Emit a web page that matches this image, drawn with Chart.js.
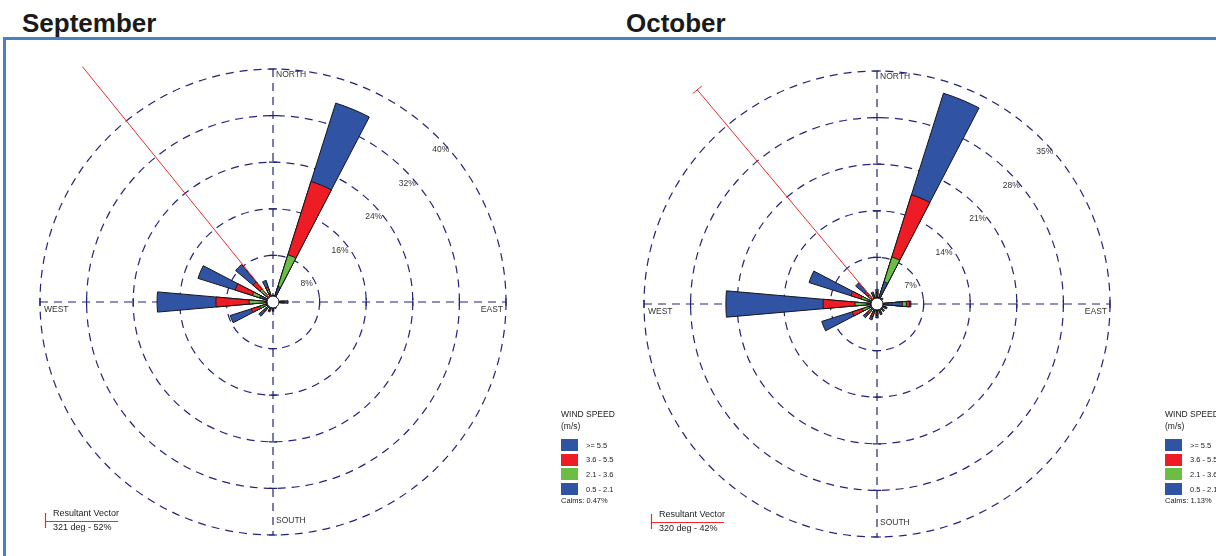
<!DOCTYPE html>
<html>
<head>
<meta charset="utf-8">
<script src="https://cdn.jsdelivr.net/npm/chart.js@4.4.1/dist/chart.umd.min.js"></script>
<style>
  html, body { margin: 0; padding: 0; background: #fff; }
  body { width: 1216px; height: 556px; position: relative; overflow: hidden; font-family: "Liberation Sans", Arial, sans-serif; }
  .title { position: absolute; top: 10px; font-weight: bold; font-size: 26px; line-height: 26px; color: #1a1a1a; }
  .frame { position: absolute; left: 3px; top: 37px; width: 1240px; height: 560px; border-top: 3px solid #4a7fc0; border-left: 3px solid #4a7fc0; }
  canvas.rose { position: absolute; top: 0; }
  .legend { position: absolute; top: 0; left: 0; font-size: 8.5px; color: #222; }
  .legend div { position: absolute; white-space: nowrap; }
  .legend .sw { width: 17px; height: 12px; }
  .legend .lbl { font-size: 7.5px; }
</style>
</head>
<body>
<div class="frame"></div>
<div class="title" style="left:22px">September</div>
<div class="title" style="left:626px">October</div>
<canvas id="sepRose" class="rose" width="608" height="556" style="left:0px"></canvas>
<canvas id="octRose" class="rose" width="608" height="556" style="left:608px"></canvas>
<div id="sepLegend" class="legend"></div>
<div id="octLegend" class="legend"></div>

<script>
// Direction sectors, clockwise from north
const DIRS = ['N', 'NNE', 'NE', 'ENE', 'E', 'ESE', 'SE', 'SSE', 'S', 'SSW', 'SW', 'WSW', 'W', 'WNW', 'NW', 'NNW'];

// Wind speed classes (m/s), slowest first
const SPEED_LABELS = ['0.5 - 2.1', '2.1 - 3.6', '3.6 - 5.5', '>= 5.5'];
const SPEED_COLORS = ['#3153a4', '#6cbd45', '#ee1c25', '#3153a4'];

// September frequencies (%) per direction for each speed class
const sepSlow = [0.8, 2.8, 0.6, 0.4, 1.6, 0.5, 0.7, 0.9, 1.1, 1.1, 1.2, 1.2, 1.4, 2.4, 1.5, 1.6];
const sepMid  = [0.1, 5.7, 0.1, 0.1, 0.2, 0.1, 0.1, 0.1, 0.2, 0.2, 0.4, 1.2, 2.7, 1.3, 1.4, 0.6];
const sepHigh = [0.1, 13.2, 0.0, 0.0, 0.2, 0.0, 0.1, 0.1, 0.1, 0.2, 0.5, 1.5, 5.7, 3.1, 1.6, 0.5];
const sepTop  = [0.2, 14.1, 0.1, 0.0, 0.6, 0.0, 0.0, 0.1, 0.2, 0.3, 1.1, 3.8, 10.1, 6.7, 3.9, 1.2];
const sepTicks = [8, 16, 24, 32, 40];
const sepCalms = 0.47;
const sepResultant = { deg: 321, pct: 52 };

// October frequencies (%) per direction for each speed class
const octSlow = [1.2, 3.5, 0.8, 0.6, 3.8, 1.0, 1.0, 1.0, 1.2, 1.3, 1.3, 1.2, 1.5, 1.3, 1.3, 1.0];
const octMid  = [0.3, 3.9, 0.2, 0.1, 0.6, 0.2, 0.2, 0.2, 0.3, 0.3, 0.4, 1.1, 1.8, 1.2, 0.5, 0.2];
const octHigh = [0.3, 9.8, 0.1, 0.1, 0.5, 0.2, 0.1, 0.2, 0.2, 0.4, 0.4, 1.6, 4.8, 1.6, 0.7, 0.3];
const octTop  = [0.4, 16.0, 0.1, 0.1, 0.2, 0.2, 0.2, 0.3, 0.4, 0.5, 0.6, 4.8, 14.6, 6.6, 1.7, 0.4];
const octTicks = [7, 14, 21, 28, 35];
const octCalms = 1.13;
const octResultant = { deg: 320, pct: 42 };

const PETAL_DEG = 10;
const GAP_DEG = 360 / DIRS.length - PETAL_DEG;
const GRID_COLOR = '#23237a';
const GRID_DASH = [8, 6];
const TEXT_COLOR = '#333';
const VECTOR_COLOR = '#ee2a2a';
const LABEL_FONT = '8.5px "Liberation Sans", Arial, sans-serif';
const KEY_FONT = '9px "Liberation Sans", Arial, sans-serif';

// Cumulative petals: each class sits on top of the slower ones.
// Every direction is followed by an empty gap slice.
function stackClasses(classes) {
  let run = DIRS.map(() => 0);
  return classes.map(cls => {
    run = run.map((v, i) => v + cls[i]);
    const out = [];
    run.forEach(v => out.push(+v.toFixed(2), 0));
    return out;
  });
}

const roseDecor = {
  id: 'roseDecor',
  beforeDatasetsDraw(chart, args, opts) {
    const r = chart.scales.r;
    const ctx = chart.ctx;
    const cx = r.xCenter, cy = r.yCenter, R = r.drawingArea;
    ctx.save();
    ctx.strokeStyle = GRID_COLOR;
    ctx.lineWidth = 1.2;
    ctx.setLineDash(GRID_DASH);
    ctx.beginPath();
    ctx.moveTo(cx, cy - R); ctx.lineTo(cx, cy + R);
    ctx.moveTo(cx - R, cy); ctx.lineTo(cx + R, cy);
    ctx.stroke();
    ctx.setLineDash([]);
    // short marks where the compass axes cross each ring
    ctx.beginPath();
    r.ticks.forEach(t => {
      if (t.value <= 0) return;
      const d = r.getDistanceFromCenterForValue(t.value);
      ctx.moveTo(cx - 4, cy - d); ctx.lineTo(cx + 4, cy - d);
      ctx.moveTo(cx - 4, cy + d); ctx.lineTo(cx + 4, cy + d);
      ctx.moveTo(cx - d, cy - 4); ctx.lineTo(cx - d, cy + 4);
      ctx.moveTo(cx + d, cy - 4); ctx.lineTo(cx + d, cy + 4);
    });
    ctx.stroke();
    ctx.restore();
  },
  afterDatasetsDraw(chart, args, opts) {
    const r = chart.scales.r;
    const ctx = chart.ctx;
    const cx = r.xCenter, cy = r.yCenter, R = r.drawingArea;
    ctx.save();

    // resultant vector, bearing measured clockwise from north
    const a = (opts.resultant.deg - 90) * Math.PI / 180;
    const len = r.getDistanceFromCenterForValue(opts.resultant.pct);
    const ex = cx + Math.cos(a) * len, ey = cy + Math.sin(a) * len;
    ctx.strokeStyle = VECTOR_COLOR;
    ctx.lineWidth = 1;
    ctx.beginPath();
    ctx.moveTo(cx, cy);
    ctx.lineTo(ex, ey);
    if (opts.cap) {
      const px = -Math.sin(a) * opts.cap / 2, py = Math.cos(a) * opts.cap / 2;
      ctx.moveTo(ex - px, ey - py);
      ctx.lineTo(ex + px, ey + py);
    }
    ctx.stroke();

    // calm circle
    ctx.beginPath();
    ctx.arc(cx, cy, 6, 0, Math.PI * 2);
    ctx.fillStyle = '#fff';
    ctx.fill();
    ctx.strokeStyle = '#111';
    ctx.lineWidth = 1;
    ctx.stroke();

    // ring labels along the north-east diagonal
    ctx.fillStyle = TEXT_COLOR;
    ctx.font = LABEL_FONT;
    ctx.textAlign = 'center';
    ctx.textBaseline = 'middle';
    r.ticks.forEach(t => {
      if (t.value <= 0) return;
      const d = r.getDistanceFromCenterForValue(t.value);
      ctx.fillText(t.value + '%', cx + 0.72 * d, cy - 0.72 * d + 15.5);
    });

    // compass names
    ctx.textAlign = 'left';
    ctx.fillText('NORTH', cx + 3, cy - R + 6);
    ctx.fillText('SOUTH', cx + 3, cy + R - 14);
    ctx.fillText('WEST', cx - R + 4, cy + 8);
    ctx.textAlign = 'right';
    ctx.fillText('EAST', cx + R - 3, cy + 8);

    // resultant vector key, bottom left
    const kx = opts.key.x, ky = opts.key.y;
    ctx.strokeStyle = VECTOR_COLOR;
    ctx.lineWidth = 1.2;
    ctx.beginPath();
    ctx.moveTo(kx + 0.5, ky - 8); ctx.lineTo(kx + 0.5, ky + 7);
    ctx.moveTo(kx, ky + 0.5); ctx.lineTo(kx + 73, ky + 0.5);
    ctx.stroke();
    ctx.fillStyle = '#222';
    ctx.font = KEY_FONT;
    ctx.textAlign = 'left';
    ctx.fillText('Resultant Vector', kx + 8, ky - 7);
    ctx.fillText(`${opts.resultant.deg} deg - ${opts.resultant.pct}%`, kx + 8, ky + 7);
    ctx.restore();
  }
};

function makeRose(canvasId, classes, ticks, resultant, padding, cap, key) {
  const stacked = stackClasses(classes);
  const labels = DIRS.flatMap(d => [d, '']);
  return new Chart(document.getElementById(canvasId), {
    type: 'polarArea',
    data: {
      labels: labels,
      datasets: stacked.map((data, k) => ({
        label: SPEED_LABELS[k],
        data: data,
        backgroundColor: SPEED_COLORS[k],
        borderColor: '#161616',
        borderWidth: ctx => (ctx.dataIndex % 2 === 0 ? 1 : 0),
        angle: ctx => (ctx.dataIndex % 2 === 0 ? PETAL_DEG : GAP_DEG)
      }))
    },
    options: {
      responsive: false,
      animation: false,
      events: [],
      layout: { padding: padding },
      scales: {
        r: {
          min: 0,
          max: ticks[ticks.length - 1],
          startAngle: -PETAL_DEG / 2,
          ticks: { display: false, stepSize: ticks[0] },
          grid: { circular: true, color: GRID_COLOR, lineWidth: 1.2 },
          border: { dash: GRID_DASH },
          angleLines: { display: false },
          pointLabels: { display: false }
        }
      },
      plugins: {
        legend: { display: false },
        tooltip: { enabled: false },
        roseDecor: { resultant: resultant, cap: cap, key: key }
      }
    },
    plugins: [roseDecor]
  });
}

function buildLegend(id, left, calms) {
  const el = document.getElementById(id);
  let html = `<div style="left:${left}px;top:409px">WIND SPEED</div>`;
  html += `<div style="left:${left}px;top:421px">(m/s)</div>`;
  for (let i = 0; i < SPEED_LABELS.length; i++) {
    const k = SPEED_LABELS.length - 1 - i;
    const top = 439 + i * 14.7;
    html += `<div class="sw" style="left:${left}px;top:${top}px;background:${SPEED_COLORS[k]}"></div>`;
    html += `<div class="lbl" style="left:${left + 25}px;top:${top + 1.5}px">${SPEED_LABELS[k].replace('>=', '&gt;=')}</div>`;
  }
  html += `<div class="lbl" style="left:${left}px;top:496px">Calms: ${calms.toFixed(2)}%</div>`;
  el.innerHTML = html;
}

makeRose('sepRose', [sepSlow, sepMid, sepHigh, sepTop], sepTicks, sepResultant,
  { left: 40, top: 69, right: 102, bottom: 21 }, 0, { x: 45, y: 521 });
makeRose('octRose', [octSlow, octMid, octHigh, octTop], octTicks, octResultant,
  { left: 36, top: 71, right: 106, bottom: 19 }, 12, { x: 43, y: 522 });

buildLegend('sepLegend', 561, sepCalms);
buildLegend('octLegend', 1165, octCalms);
</script>
</body>
</html>
